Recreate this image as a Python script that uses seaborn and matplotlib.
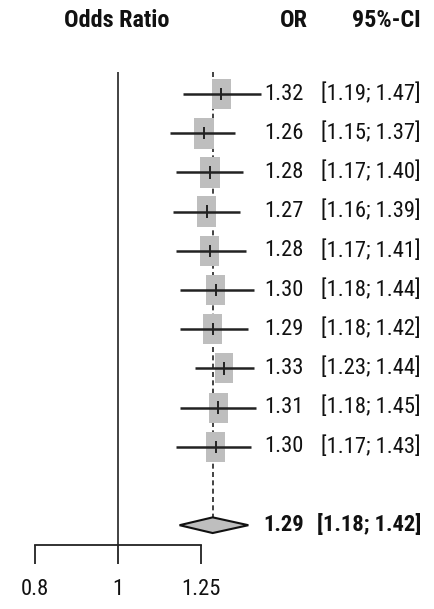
import numpy as np
import pandas as pd
import matplotlib
matplotlib.use("Agg")
import matplotlib.pyplot as plt
import matplotlib.transforms as mtransforms
from matplotlib.path import Path
from matplotlib import font_manager
import seaborn as sns

odds_ratio = [1.32, 1.26, 1.28, 1.27, 1.28, 1.30, 1.29, 1.33, 1.31, 1.30]
ci_lower = [1.19, 1.15, 1.17, 1.16, 1.17, 1.18, 1.18, 1.23, 1.18, 1.17]
ci_upper = [1.47, 1.37, 1.40, 1.39, 1.41, 1.44, 1.42, 1.44, 1.45, 1.43]
weights = [10.2, 10.3, 10.4, 10.1, 9.6, 10.0, 10.2, 9.7, 9.8, 9.9]
pooled_or = 1.29
pooled_lower = 1.18
pooled_upper = 1.42
tick_values = [0.8, 1, 1.25]
tick_labels = ["0.8", "1", "1.25"]

df = pd.DataFrame({
    "row": np.arange(1, len(odds_ratio) + 1),
    "OR": odds_ratio,
    "lower": ci_lower,
    "upper": ci_upper,
    "w": weights,
})
pooled_row = len(odds_ratio) + 2

sns.set_style("white")

# procura uma fonte estreita, senao usa Liberation Sans
nomes = {f.name for f in font_manager.fontManager.ttflist}
fonte = "Liberation Sans"
for cand in ["Liberation Sans Narrow", "Roboto Condensed", "Open Sans Condensed",
             "DejaVu Sans Condensed", "Noto Sans Condensed"]:
    if cand in nomes:
        fonte = cand
        break
plt.rcParams["font.family"] = [fonte, "DejaVu Sans"]

W, H = 435, 609
fig = plt.figure(figsize=(W / 100, H / 100), dpi=100)

# ajusta o tamanho da fonte pela largura de "95%-CI" (~69 px no original)
renderer = fig.canvas.get_renderer()
teste = fig.text(0, 0, "95%-CI", fontsize=10, fontweight="bold")
largura = teste.get_window_extent(renderer).width
teste.remove()
fs = 10 * 69 / largura
fs_val = fs * 0.93

ax = fig.add_axes([0, 0, 265 / W, 1])

# linha 1 em y=94 px, 39.2 px por linha
def px2row(y):
    return (y - 94) / 39.2 + 1

ax.set_xscale("log")
ax.set_xlim(0.728, 1.485)
ax.set_ylim(px2row(H), px2row(0))

top = px2row(72)
# linha de nulidade e linha tracejada do efeito combinado
ax.vlines(1, top, 12.5, color="#222222", lw=1.2)
ax.vlines(pooled_or, top, pooled_row - 0.2, color="#222222", lw=1.2,
          linestyles=(0, (3, 2)))

# quadrados
ratio = 0.63
quad = Path([(-ratio / 2, -0.5), (ratio / 2, -0.5), (ratio / 2, 0.5),
             (-ratio / 2, 0.5), (-ratio / 2, -0.5)], closed=True)
sizes = [(21.8 * np.sqrt(w / 10.0)) ** 2 for w in weights]
sns.scatterplot(data=df, x="OR", y="row", marker=quad, s=sizes,
                color="#bebebe", edgecolor="none", linewidth=0, ax=ax,
                zorder=3, legend=False)

# intervalos de confianca
ax.hlines(df["row"], df["lower"], df["upper"], color="#222222", lw=1.8, zorder=4)
ax.vlines(df["OR"], df["row"] - 0.16, df["row"] + 0.16, color="#222222", lw=1.4, zorder=4)

# diamante
ax.fill([pooled_lower, pooled_or, pooled_upper, pooled_or, pooled_lower],
        [pooled_row, pooled_row - 0.2, pooled_row, pooled_row + 0.2, pooled_row],
        facecolor="#bebebe", edgecolor="#111111", lw=1.5, zorder=3)

# eixo x
for s in ["top", "right", "left"]:
    ax.spines[s].set_visible(False)
ax.spines["bottom"].set_position(("data", 12.5))
ax.spines["bottom"].set_bounds(0.8, 1.25)
ax.spines["bottom"].set_linewidth(1.3)
ax.spines["bottom"].set_color("#222222")
ax.set_xticks(tick_values)
ax.set_xticklabels(tick_labels)
ax.xaxis.set_minor_locator(matplotlib.ticker.NullLocator())
ax.tick_params(axis="x", bottom=True, direction="out", length=13.7, width=1.3,
               color="#222222", labelcolor="#111111", labelsize=fs_val, pad=11)
ax.set_yticks([])
ax.set_xlabel("")
ax.set_ylabel("")
ax.patch.set_alpha(0)

# textos
trans = mtransforms.blended_transform_factory(fig.transFigure, ax.transData)
hy = px2row(20)
cor = "#111111"
ax.text(117 / W, hy, "Odds Ratio", transform=trans, ha="center", va="center",
        fontsize=fs, fontweight="bold", color=cor, clip_on=False)
ax.text(308 / W, hy, "OR", transform=trans, ha="right", va="center",
        fontsize=fs, fontweight="bold", color=cor, clip_on=False)
ax.text(421 / W, hy, "95%-CI", transform=trans, ha="right", va="center",
        fontsize=fs, fontweight="bold", color=cor, clip_on=False)

for r, o, lo, up in zip(df["row"], odds_ratio, ci_lower, ci_upper):
    ax.text(304 / W, r, f"{o:.2f}", transform=trans, ha="right", va="center",
            fontsize=fs_val, color=cor, clip_on=False)
    ax.text(421 / W, r, f"[{lo:.2f}; {up:.2f}]", transform=trans, ha="right",
            va="center", fontsize=fs_val, color=cor, clip_on=False)

ax.text(304 / W, pooled_row, f"{pooled_or:.2f}", transform=trans, ha="right",
        va="center", fontsize=fs_val, fontweight="bold", color=cor, clip_on=False)
ax.text(421 / W, pooled_row, f"[{pooled_lower:.2f}; {pooled_upper:.2f}]",
        transform=trans, ha="right", va="center", fontsize=fs_val,
        fontweight="bold", color=cor, clip_on=False)

fig.savefig("out.png", dpi=100)
